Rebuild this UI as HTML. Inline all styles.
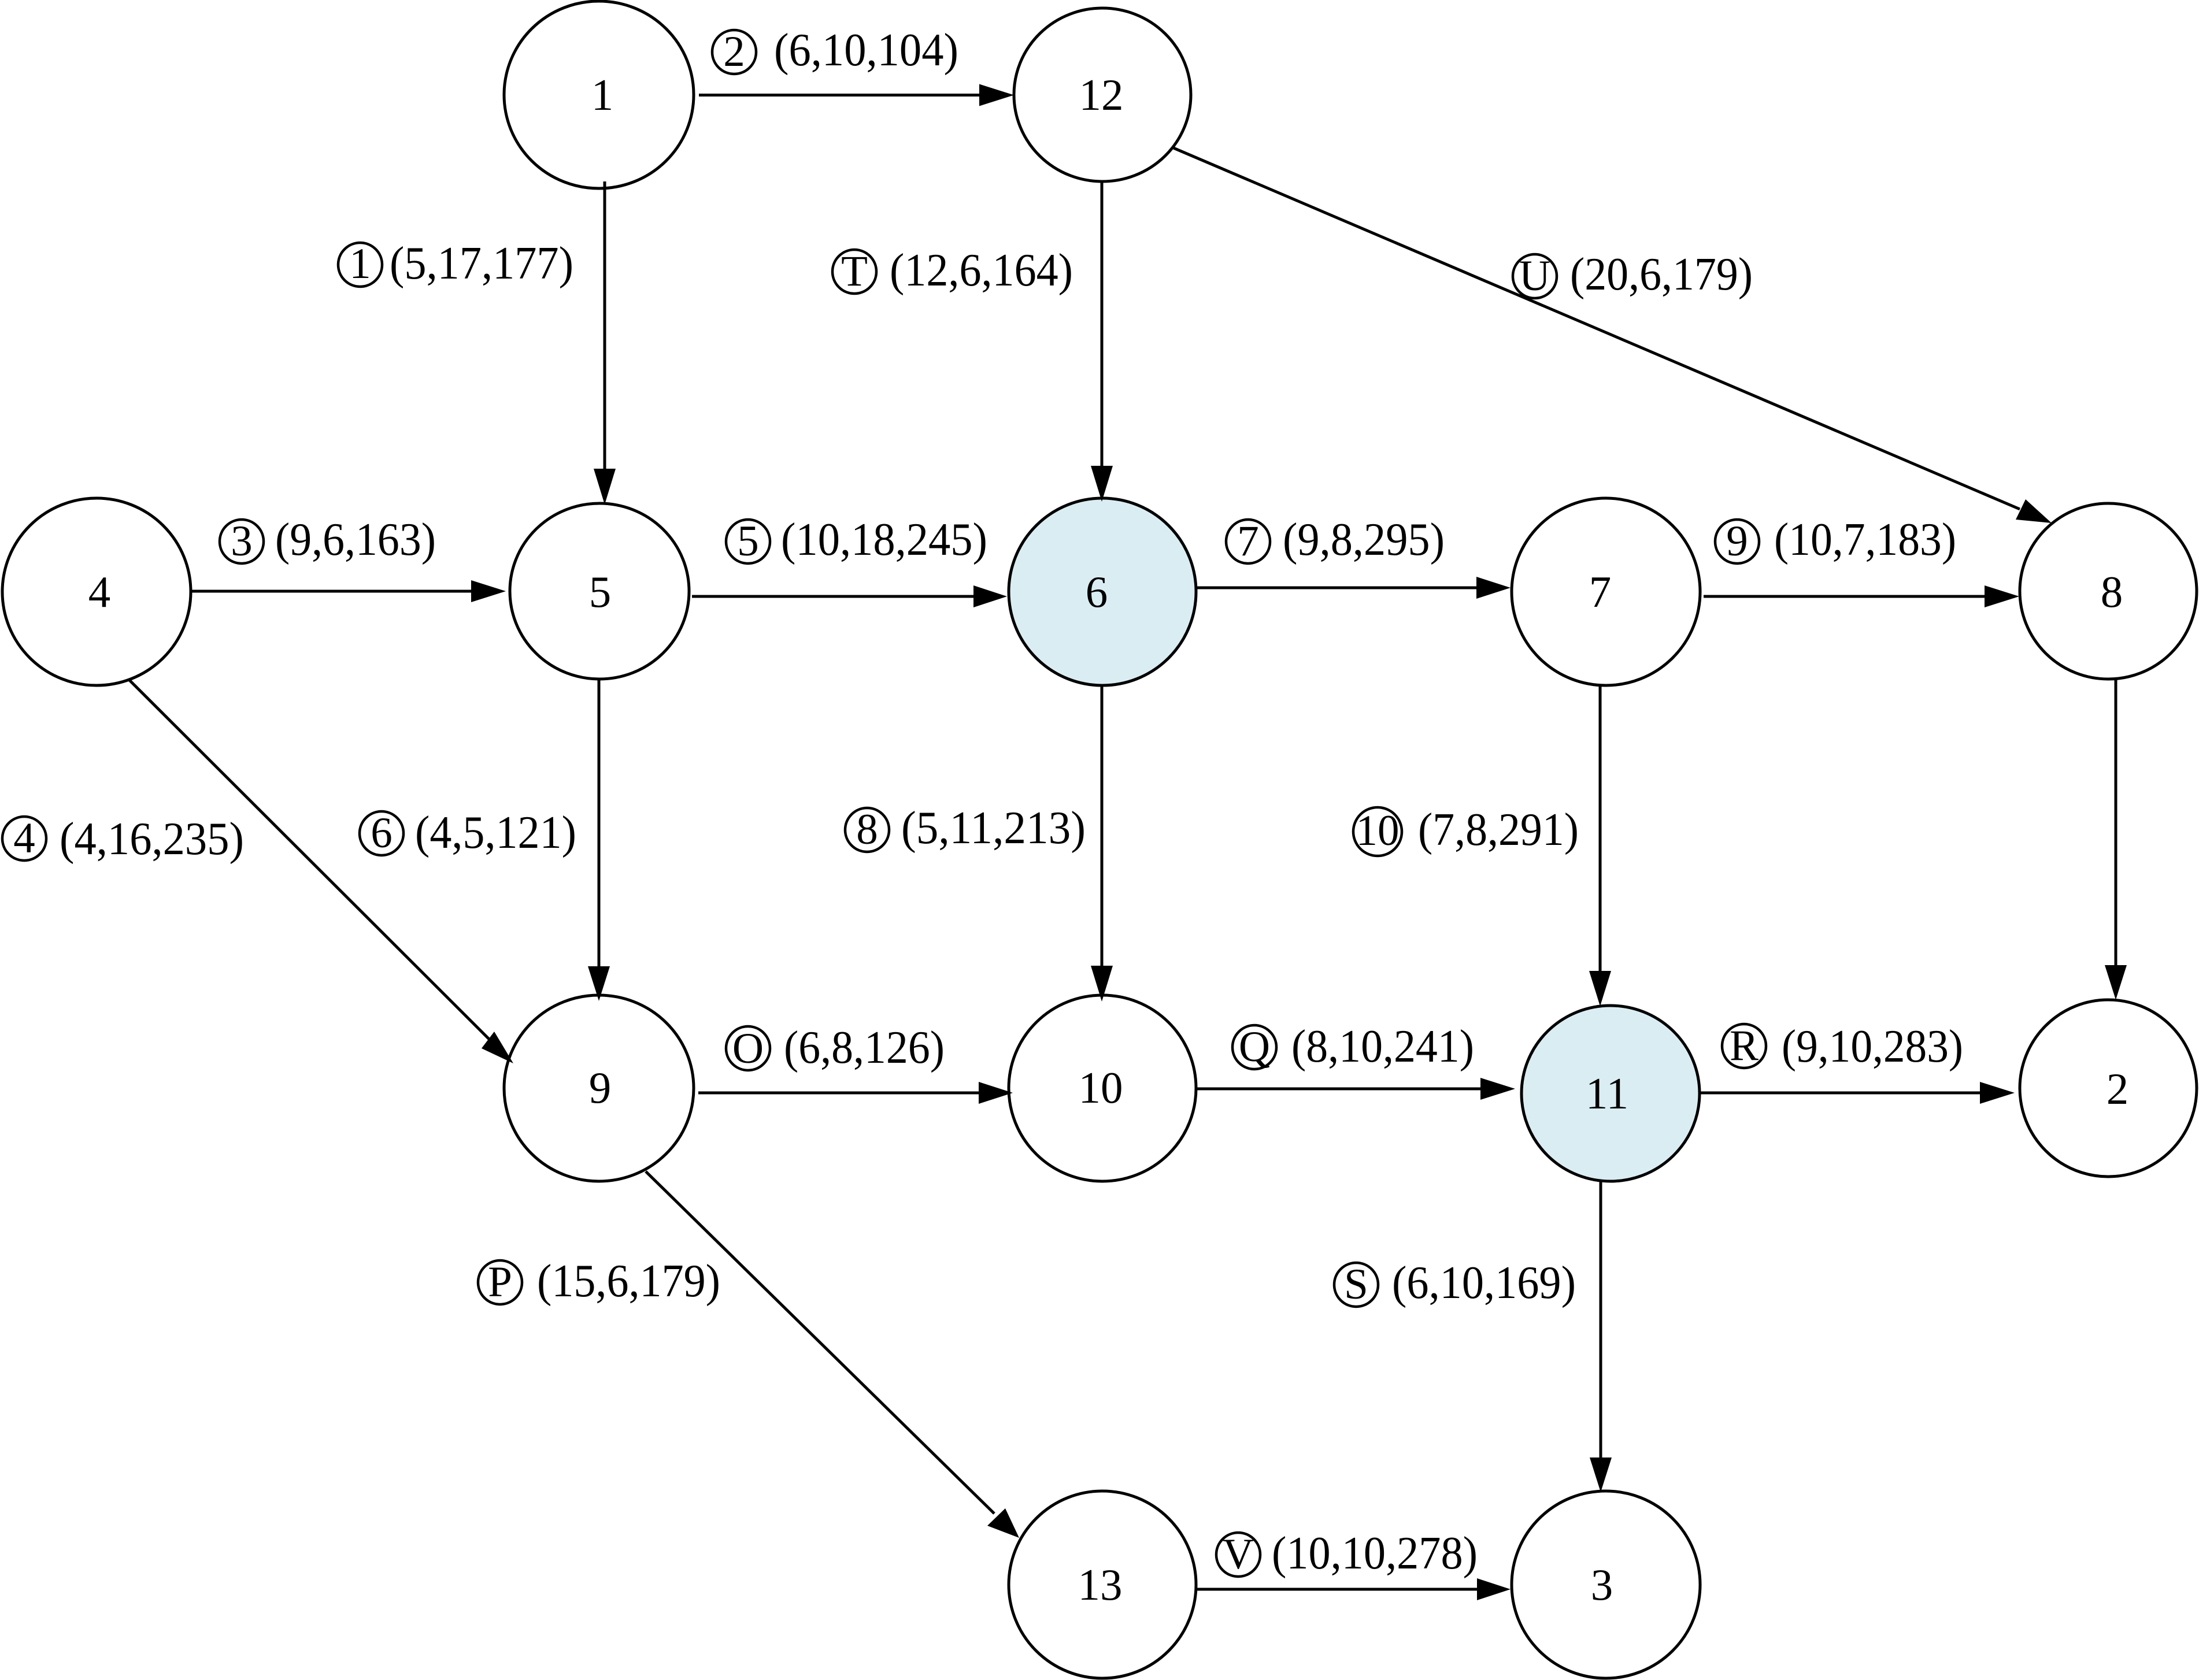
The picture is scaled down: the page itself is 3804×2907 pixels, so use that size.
<!DOCTYPE html>
<html>
<head>
<meta charset="utf-8">
<style>
html,body{margin:0;padding:0;background:#fff}
svg{display:block}
text{font-family:"Liberation Serif","Times New Roman",serif;fill:#000}
.n{font-size:77px;text-anchor:middle}
.l{font-size:80px}
.c{font-size:75px;text-anchor:middle}
</style>
</head>
<body>
<svg xmlns="http://www.w3.org/2000/svg" width="3804" height="2907" viewBox="0 0 3804 2907">
<rect width="3804" height="2907" fill="#fff"/>
<!-- nodes -->
<g fill="#fff" stroke="#000" stroke-width="5">
<ellipse cx="1036" cy="164" rx="164" ry="162"/>
<ellipse cx="1907" cy="164" rx="153" ry="150"/>
<ellipse cx="167" cy="1024" rx="163" ry="162"/>
<ellipse cx="1037" cy="1023" rx="155" ry="152"/>
<ellipse cx="1907" cy="1024" rx="162" ry="162" fill="#DAEDF3"/>
<ellipse cx="2778" cy="1024" rx="163" ry="162"/>
<ellipse cx="3647" cy="1023" rx="153" ry="152"/>
<ellipse cx="1036" cy="1883" rx="164" ry="161"/>
<ellipse cx="1907" cy="1883" rx="162" ry="161"/>
<ellipse cx="2786" cy="1892" rx="154" ry="152" fill="#DAEDF3"/>
<ellipse cx="3647" cy="1883" rx="153" ry="153"/>
<ellipse cx="1907" cy="2742" rx="162" ry="162"/>
<ellipse cx="2778" cy="2742" rx="163" ry="162"/>
</g>
<!-- edges -->
<g stroke="#000" stroke-width="5" fill="none">
<line x1="1209" y1="164.5" x2="1700" y2="164.5"/>
<line x1="1046" y1="314" x2="1046" y2="820"/>
<line x1="330" y1="1023" x2="820" y2="1023"/>
<line x1="1197" y1="1032" x2="1690" y2="1032"/>
<line x1="1906" y1="314" x2="1906" y2="815"/>
<line x1="2030" y1="256" x2="3494" y2="881"/>
<line x1="2070" y1="1017" x2="2560" y2="1017"/>
<line x1="2947" y1="1032" x2="3440" y2="1032"/>
<line x1="1906" y1="1186" x2="1906" y2="1680"/>
<line x1="1036" y1="1175" x2="1036" y2="1680"/>
<line x1="224" y1="1177" x2="846" y2="1798"/>
<line x1="2768" y1="1186" x2="2768" y2="1685"/>
<line x1="3660" y1="1175" x2="3660" y2="1675"/>
<line x1="1208" y1="1891" x2="1695" y2="1891"/>
<line x1="2071" y1="1884" x2="2565" y2="1884"/>
<line x1="2942" y1="1891" x2="3430" y2="1891"/>
<line x1="2769" y1="2044" x2="2769" y2="2525"/>
<line x1="1117" y1="2027" x2="1720" y2="2619"/>
<line x1="2071" y1="2750" x2="2560" y2="2750"/>
</g>
<!-- arrowheads -->
<g fill="#000">
<polygon points="1754,164.5 1694,145.5 1694,183.5"/>
<polygon points="1046,873 1027,811 1065,811"/>
<polygon points="875,1023 815,1004 815,1042"/>
<polygon points="1742,1032 1684,1013 1684,1051"/>
<polygon points="1906,868 1887,806 1925,806"/>
<polygon points="3549,905 3504,864 3487,899"/>
<polygon points="2613,1017 2554,998 2554,1036"/>
<polygon points="3493,1032 3433,1013 3433,1051"/>
<polygon points="1906,1733 1887,1671 1925,1671"/>
<polygon points="1036,1732 1017,1672 1055,1672"/>
<polygon points="888,1840 855,1785 833,1814"/>
<polygon points="2768,1741 2749,1680 2787,1680"/>
<polygon points="3660,1730 3641,1670 3679,1670"/>
<polygon points="1752,1891 1693,1872 1693,1910"/>
<polygon points="2621,1884 2561,1865 2561,1903"/>
<polygon points="3485,1891 3425,1872 3425,1910"/>
<polygon points="2769,2582 2750,2522 2788,2522"/>
<polygon points="1763,2661 1739,2610 1708,2640"/>
<polygon points="2613,2750 2555,2731 2555,2769"/>
</g>
<!-- node labels -->
<g class="nn">
<text class="n" x="1042" y="190">1</text>
<text class="n" x="1905" y="190">12</text>
<text class="n" x="172" y="1050">4</text>
<text class="n" x="1038" y="1050">5</text>
<text class="n" x="1897" y="1050">6</text>
<text class="n" x="2768" y="1050">7</text>
<text class="n" x="3653" y="1050">8</text>
<text class="n" x="1038" y="1908">9</text>
<text class="n" x="1904" y="1908">10</text>
<text class="n" x="2780" y="1918">11</text>
<text class="n" x="3663" y="1910">2</text>
<text class="n" x="1903" y="2768">13</text>
<text class="n" x="2771" y="2768">3</text>
</g>
<!-- circle markers -->
<g fill="none" stroke="#000" stroke-width="4.5">
<circle cx="623" cy="458" r="38"/>
<circle cx="1270" cy="90" r="38"/>
<circle cx="1478" cy="470" r="38"/>
<circle cx="418" cy="937" r="38"/>
<circle cx="1294" cy="937" r="38"/>
<circle cx="2655" cy="478" r="38"/>
<circle cx="2159" cy="937" r="38"/>
<circle cx="3005" cy="937" r="38"/>
<circle cx="42" cy="1451" r="38"/>
<circle cx="660" cy="1442" r="38"/>
<circle cx="1500" cy="1436" r="38"/>
<circle cx="1294" cy="1814" r="38"/>
<circle cx="865" cy="2219" r="38"/>
<circle cx="2383" cy="1439" r="42"/>
<circle cx="2170" cy="1812" r="38"/>
<circle cx="3017" cy="1810" r="38"/>
<circle cx="2346" cy="2223" r="38"/>
<circle cx="2142" cy="2690" r="38"/>
</g>
<g>
<text class="c" x="623" y="481">1</text>
<text class="c" x="1270" y="114">2</text>
<text class="c" x="1478" y="494">T</text>
<text class="c" x="418" y="961">3</text>
<text class="c" x="1294" y="961">5</text>
<text class="c" x="2655" y="502">U</text>
<text class="c" x="2159" y="961">7</text>
<text class="c" x="3005" y="961">9</text>
<text class="c" x="42" y="1475">4</text>
<text class="c" x="660" y="1466">6</text>
<text class="c" x="1500" y="1460">8</text>
<text class="c" x="1294" y="1839">O</text>
<text class="c" x="865" y="2243">P</text>
<text class="c" x="2383" y="1462" textLength="75" lengthAdjust="spacingAndGlyphs">10</text>
<text class="c" x="2170" y="1836">Q</text>
<text class="c" x="3017" y="1834">R</text>
<text class="c" x="2346" y="2247">S</text>
<text class="c" x="2142" y="2714">V</text>
</g>
<!-- edge labels -->
<g>
<text class="l" x="674" y="482" textLength="318" lengthAdjust="spacingAndGlyphs">(5,17,177)</text>
<text class="l" x="1339" y="113" textLength="319" lengthAdjust="spacingAndGlyphs">(6,10,104)</text>
<text class="l" x="1539" y="494" textLength="317" lengthAdjust="spacingAndGlyphs">(12,6,164)</text>
<text class="l" x="476" y="960" textLength="278" lengthAdjust="spacingAndGlyphs">(9,6,163)</text>
<text class="l" x="1351" y="960" textLength="357" lengthAdjust="spacingAndGlyphs">(10,18,245)</text>
<text class="l" x="2716" y="501" textLength="316" lengthAdjust="spacingAndGlyphs">(20,6,179)</text>
<text class="l" x="2219" y="960" textLength="280" lengthAdjust="spacingAndGlyphs">(9,8,295)</text>
<text class="l" x="3069" y="960" textLength="315" lengthAdjust="spacingAndGlyphs">(10,7,183)</text>
<text class="l" x="103" y="1478" textLength="319" lengthAdjust="spacingAndGlyphs">(4,16,235)</text>
<text class="l" x="718" y="1467" textLength="279" lengthAdjust="spacingAndGlyphs">(4,5,121)</text>
<text class="l" x="1559" y="1459" textLength="319" lengthAdjust="spacingAndGlyphs">(5,11,213)</text>
<text class="l" x="1356" y="1839" textLength="278" lengthAdjust="spacingAndGlyphs">(6,8,126)</text>
<text class="l" x="929" y="2243" textLength="317" lengthAdjust="spacingAndGlyphs">(15,6,179)</text>
<text class="l" x="2453" y="1462" textLength="278" lengthAdjust="spacingAndGlyphs">(7,8,291)</text>
<text class="l" x="2234" y="1837" textLength="316" lengthAdjust="spacingAndGlyphs">(8,10,241)</text>
<text class="l" x="3082" y="1837" textLength="314" lengthAdjust="spacingAndGlyphs">(9,10,283)</text>
<text class="l" x="2408" y="2246" textLength="318" lengthAdjust="spacingAndGlyphs">(6,10,169)</text>
<text class="l" x="2200" y="2714" textLength="356" lengthAdjust="spacingAndGlyphs">(10,10,278)</text>
</g>
</svg>
</body>
</html>
